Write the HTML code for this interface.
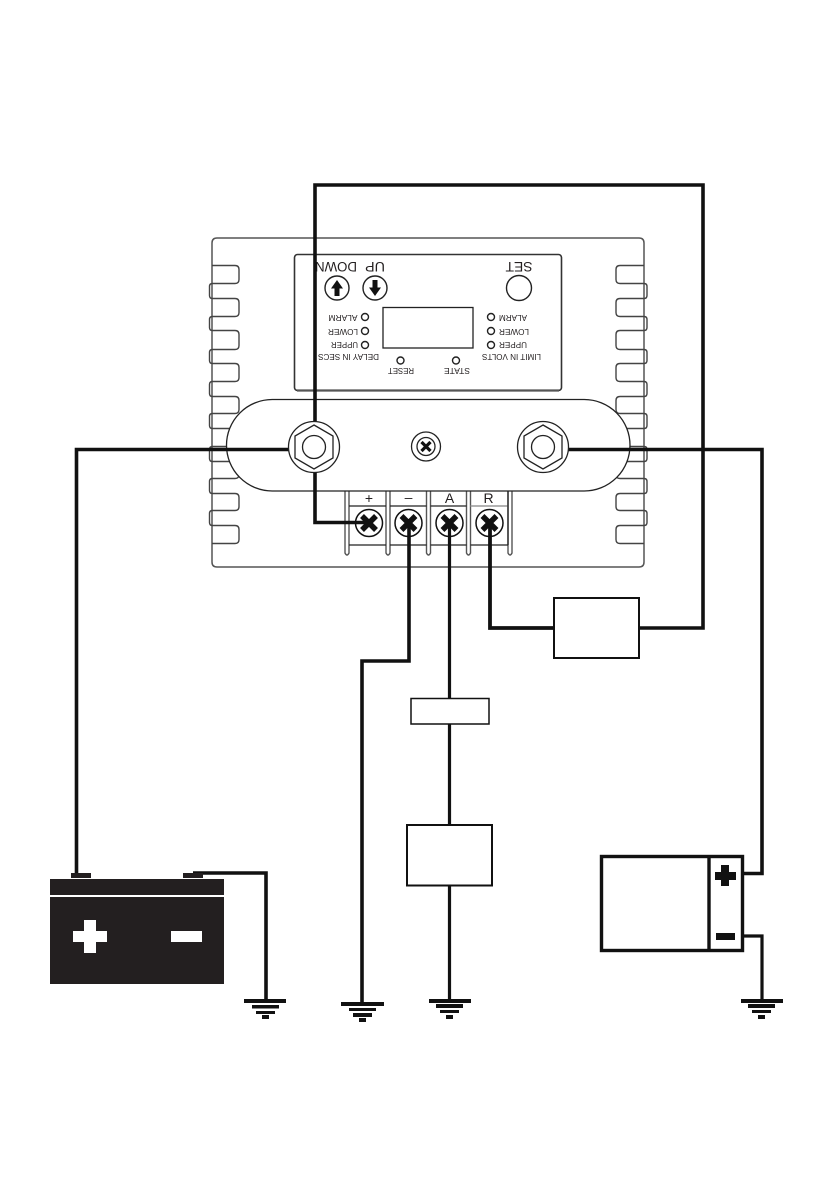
<!DOCTYPE html>
<html><head><meta charset="utf-8"><style>
html,body{margin:0;padding:0;background:#fff}
svg{display:block}
text{font-family:"Liberation Sans",sans-serif;fill:#231f20}
</style></head><body>
<svg width="839" height="1191" viewBox="0 0 839 1191" xmlns="http://www.w3.org/2000/svg">
<rect width="839" height="1191" fill="#fff"/>
<!-- outer body -->
<path d="M212 243 Q212 238 217 238 H639 Q644 238 644 243 V562 Q644 567 639 567 H217 Q212 567 212 562 Z" fill="#fff" stroke="#555" stroke-width="1.500"/>
<!-- fins left -->
<g fill="none" stroke="#444" stroke-width="1.400">
<path d="M212 265.500 H235 Q239 265.500 239 269.500 V279.500 Q239 283.500 235 283.500 H212.500 Q209.500 283.500 209.500 286.500 V295.500 Q209.500 298.500 212.500 298.500"/>
<path d="M212 298.500 H235 Q239 298.500 239 302.500 V312.500 Q239 316.500 235 316.500 H212.500 Q209.500 316.500 209.500 319.500 V327.500 Q209.500 330.500 212.500 330.500"/>
<path d="M212 330.500 H235 Q239 330.500 239 334.500 V345.500 Q239 349.500 235 349.500 H212.500 Q209.500 349.500 209.500 352.500 V360.500 Q209.500 363.500 212.500 363.500"/>
<path d="M212 363.500 H235 Q239 363.500 239 367.500 V377.500 Q239 381.500 235 381.500 H212.500 Q209.500 381.500 209.500 384.500 V393.500 Q209.500 396.500 212.500 396.500"/>
<path d="M212 396.500 H235 Q239 396.500 239 400.500 V409.500 Q239 413.500 235 413.500 H212.500 Q209.500 413.500 209.500 416.500 V425.500 Q209.500 428.500 212.500 428.500"/>
<path d="M212 428.500 H235 Q239 428.500 239 432.500 V442.500 Q239 446.500 235 446.500 H212.500 Q209.500 446.500 209.500 449.500 V458.500 Q209.500 461.500 212.500 461.500"/>
<path d="M212 461.500 H235 Q239 461.500 239 465.500 V474.500 Q239 478.500 235 478.500 H212.500 Q209.500 478.500 209.500 481.500 V490.500 Q209.500 493.500 212.500 493.500"/>
<path d="M212 493.500 H235 Q239 493.500 239 497.500 V506.500 Q239 510.500 235 510.500 H212.500 Q209.500 510.500 209.500 513.500 V522.500 Q209.500 525.500 212.500 525.500"/>
<path d="M212 525.500 H235 Q239 525.500 239 529.500 V539.500 Q239 543.500 235 543.500 H212"/>
<!-- fins right -->
<path d="M644 265.500 H620 Q616 265.500 616 269.500 V279.500 Q616 283.500 620 283.500 H644 Q647 283.500 647 286.500 V295.500 Q647 298.500 644 298.500"/>
<path d="M644 298.500 H620 Q616 298.500 616 302.500 V312.500 Q616 316.500 620 316.500 H644 Q647 316.500 647 319.500 V327.500 Q647 330.500 644 330.500"/>
<path d="M644 330.500 H620 Q616 330.500 616 334.500 V345.500 Q616 349.500 620 349.500 H644 Q647 349.500 647 352.500 V360.500 Q647 363.500 644 363.500"/>
<path d="M644 363.500 H620 Q616 363.500 616 367.500 V377.500 Q616 381.500 620 381.500 H644 Q647 381.500 647 384.500 V393.500 Q647 396.500 644 396.500"/>
<path d="M644 396.500 H620 Q616 396.500 616 400.500 V409.500 Q616 413.500 620 413.500 H644 Q647 413.500 647 416.500 V425.500 Q647 428.500 644 428.500"/>
<path d="M644 428.500 H620 Q616 428.500 616 432.500 V442.500 Q616 446.500 620 446.500 H644 Q647 446.500 647 449.500 V458.500 Q647 461.500 644 461.500"/>
<path d="M644 461.500 H620 Q616 461.500 616 465.500 V474.500 Q616 478.500 620 478.500 H644 Q647 478.500 647 481.500 V490.500 Q647 493.500 644 493.500"/>
<path d="M644 493.500 H620 Q616 493.500 616 497.500 V506.500 Q616 510.500 620 510.500 H644 Q647 510.500 647 513.500 V522.500 Q647 525.500 644 525.500"/>
<path d="M644 525.500 H620 Q616 525.500 616 529.500 V539.500 Q616 543.500 620 543.500 H644"/>
</g>
<!-- inner panel -->
<rect x="294.500" y="254.500" width="267" height="136" rx="3" fill="#fff" stroke="#333" stroke-width="1.600"/>
<path d="M297 390.500 H559" stroke="#555" stroke-width="2.200"/>
<rect x="383" y="307.500" width="90" height="40.500" fill="#fff" stroke="#222" stroke-width="1.300"/>
<!-- panel text, upside down -->
<g text-anchor="middle">
<text x="519" y="262" font-size="14" transform="rotate(180 519 262)" textLength="27" lengthAdjust="spacingAndGlyphs">SET</text>
<text x="375" y="262" font-size="14" transform="rotate(180 375 262)" textLength="20" lengthAdjust="spacingAndGlyphs">UP</text>
<text x="336" y="262" font-size="14" transform="rotate(180 336 262)" textLength="42" lengthAdjust="spacingAndGlyphs">DOWN</text>
<text x="343" y="315" font-size="8" transform="rotate(180 343 315)" textLength="29" lengthAdjust="spacingAndGlyphs">ALARM</text>
<text x="343" y="329" font-size="8" transform="rotate(180 343 329)" textLength="30" lengthAdjust="spacingAndGlyphs">LOWER</text>
<text x="344.500" y="342" font-size="8" transform="rotate(180 344.500 342)" textLength="27" lengthAdjust="spacingAndGlyphs">UPPER</text>
<text x="348.500" y="354" font-size="8" transform="rotate(180 348.500 354)" textLength="61" lengthAdjust="spacingAndGlyphs">DELAY IN SECS</text>
<text x="401" y="368" font-size="8" transform="rotate(180 401 368)" textLength="26" lengthAdjust="spacingAndGlyphs">RESET</text>
<text x="457" y="368" font-size="8" transform="rotate(180 457 368)" textLength="26" lengthAdjust="spacingAndGlyphs">STATE</text>
<text x="511.500" y="354" font-size="8" transform="rotate(180 511.500 354)" textLength="59" lengthAdjust="spacingAndGlyphs">LIMIT IN VOLTS</text>
<text x="513" y="315" font-size="8" transform="rotate(180 513 315)" textLength="28" lengthAdjust="spacingAndGlyphs">ALARM</text>
<text x="514" y="329" font-size="8" transform="rotate(180 514 329)" textLength="30" lengthAdjust="spacingAndGlyphs">LOWER</text>
<text x="513" y="342" font-size="8" transform="rotate(180 513 342)" textLength="28" lengthAdjust="spacingAndGlyphs">UPPER</text>
</g>
<g fill="#fff" stroke="#222" stroke-width="1.400">
<circle cx="365" cy="317" r="3.500"/><circle cx="365" cy="331" r="3.500"/><circle cx="365" cy="345" r="3.500"/>
<circle cx="491" cy="317" r="3.500"/><circle cx="491" cy="331" r="3.500"/><circle cx="491" cy="345" r="3.500"/>
<circle cx="400.500" cy="360.500" r="3.500"/><circle cx="456" cy="360.500" r="3.500"/>
<circle cx="337" cy="288" r="12"/><circle cx="375" cy="288" r="12"/><circle cx="519" cy="288" r="12.500"/>
</g>
<path d="M337 280 L343 288.500 H339.500 V296 H334.500 V288.500 H331 Z" fill="#111"/>
<path d="M375 296 L381 287.500 H377.500 V280 H372.500 V287.500 H369 Z" fill="#111"/>
<!-- terminal block -->
<g fill="#fff" stroke="#555" stroke-width="1.400">
<path d="M345 491 V553 Q347 557 349 553 V491"/>
<path d="M386 491 V553 Q388 557 390 553 V491"/>
<path d="M426.500 491 V553 Q428.500 557 430.500 553 V491"/>
<path d="M466.500 491 V553 Q468.500 557 470.500 553 V491"/>
<path d="M508 491 V553 Q510 557 512 553 V491"/>
</g>
<g stroke="#222" stroke-width="1.300" fill="none">
<path d="M349 506 H386 M390 506 H426.500 M430.500 506 H466.500"/>
<path d="M470.500 506 H508" stroke="#999" stroke-width="1.600"/>
<path d="M349 545 H386 M390 545 H426.500 M430.500 545 H466.500 M470.500 545 H508"/>
<path d="M508 491 V545"/>
</g>
<text x="369" y="503" font-size="14" text-anchor="middle">+</text>
<text x="408.500" y="502" font-size="14" text-anchor="middle">–</text>
<text x="449.500" y="503" font-size="14" text-anchor="middle">A</text>
<text x="488.500" y="503" font-size="14" text-anchor="middle">R</text>
<!-- oval plate -->
<rect x="226.500" y="399.500" width="403.500" height="91.500" rx="45.750" fill="#fff" stroke="#222" stroke-width="1.300"/>
<!-- wires -->
<g fill="none" stroke="#111" stroke-linejoin="miter">
<path d="M315 425 V185 H703 V628 H639" stroke-width="3.600"/>
<path d="M315 470 V522.500 H369" stroke-width="3.600"/>
<path d="M76.500 875 V449.500 H290" stroke-width="3.600"/>
<path d="M567 449.500 H762 V873.500 H743" stroke-width="3.600"/>
<path d="M490 523 V628 H554" stroke-width="3.800"/>
<path d="M409 523 V661 H362 V1003" stroke-width="3.600"/>
<path d="M449.500 523 V1000" stroke-width="3.200"/>
<path d="M193 873 H266 V1000" stroke-width="3.600"/>
<path d="M743 936 H762 V1000" stroke-width="3.200"/>
</g>
<!-- bolts -->
<g fill="#fff" stroke="#222" stroke-width="1.300">
<circle cx="314" cy="447" r="25.500"/>
<path d="M314 425 L333 436 V458 L314 469 L295 458 V436 Z"/>
<circle cx="314" cy="447" r="11.500"/>
<circle cx="543" cy="447" r="25.500"/>
<path d="M543 425 L562 436 V458 L543 469 L524 458 V436 Z"/>
<circle cx="543" cy="447" r="11.500"/>
<circle cx="426" cy="446.500" r="14.500"/>
<circle cx="426" cy="446.500" r="9"/>
</g>
<path d="M421.500 442 L430.500 451 M430.500 442 L421.500 451" stroke="#111" stroke-width="3.200"/>
<!-- terminal screws -->
<g fill="none" stroke="#111" stroke-width="1.500">
<circle cx="369" cy="523" r="13.500"/><circle cx="408.500" cy="523" r="13.500"/><circle cx="449.500" cy="523" r="13.500"/><circle cx="489.500" cy="523" r="13.500"/>
</g>
<g stroke="#111" stroke-width="5.500">
<path d="M362 516 L376 530 M376 516 L362 530"/>
<path d="M401.500 516 L415.500 530 M415.500 516 L401.500 530"/>
<path d="M442.500 516 L456.500 530 M456.500 516 L442.500 530"/>
<path d="M482.500 516 L496.500 530 M496.500 516 L482.500 530"/>
</g>
<!-- boxes -->
<g fill="#fff" stroke="#111">
<rect x="554" y="598" width="85" height="60" stroke-width="2"/>
<rect x="411" y="698.500" width="78" height="25.500" stroke-width="1.500"/>
<rect x="407" y="825" width="85" height="60.500" stroke-width="2"/>
<rect x="601.500" y="856.500" width="141" height="94" stroke-width="3.400"/>
</g>
<path d="M709 856 V951" stroke="#111" stroke-width="3.400"/>
<path d="M715 872 H721 V865 H729 V872 H736 V880 H729 V886 H721 V880 H715 Z" fill="#111"/>
<rect x="716" y="933" width="19" height="7" fill="#111"/>
<!-- battery -->
<g fill="#231f20">
<rect x="50" y="879" width="174" height="16"/>
<rect x="50" y="897" width="174" height="87"/>
<rect x="71" y="873" width="20" height="5"/>
<rect x="183" y="873" width="20" height="5"/>
</g>
<path d="M84 920 H96 V931 H107 V942 H96 V953 H84 V942 H73 V931 H84 Z" fill="#fff"/>
<rect x="171" y="931" width="31" height="11" fill="#fff"/>
<!-- grounds -->
<g fill="#111">
<rect x="244" y="999" width="42" height="4"/><rect x="252" y="1005" width="27" height="3.500"/><rect x="256" y="1011" width="19" height="3"/><rect x="262" y="1015" width="7" height="4"/>
<rect x="341" y="1002" width="43" height="4"/><rect x="349" y="1008" width="27" height="3"/><rect x="353" y="1013" width="19" height="4"/><rect x="359" y="1018" width="7" height="4"/>
<rect x="429" y="999" width="42" height="4"/><rect x="436" y="1004" width="27" height="4"/><rect x="440" y="1010" width="19" height="3"/><rect x="446" y="1015" width="7" height="4"/>
<rect x="741" y="999" width="42" height="4"/><rect x="748" y="1004" width="27" height="4"/><rect x="752" y="1010" width="19" height="3"/><rect x="758" y="1015" width="7" height="4"/>
</g>
</svg>
</body></html>
